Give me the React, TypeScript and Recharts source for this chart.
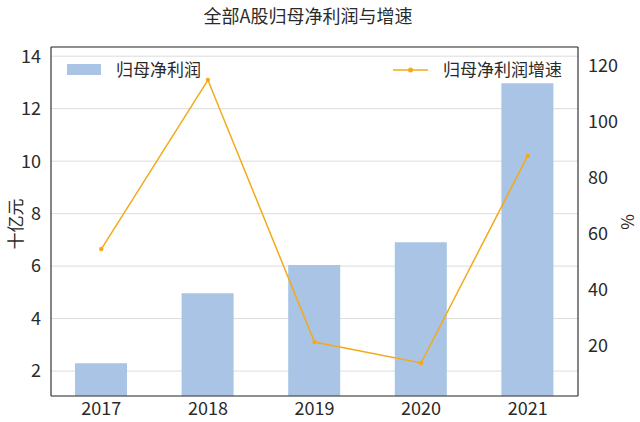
import React from 'react';
import { ComposedChart, Bar, Line, XAxis, YAxis, CartesianGrid, ReferenceLine } from 'recharts';

const years = ['2017', '2018', '2019', '2020', '2021'];
const profit = [2.3, 4.97, 6.04, 6.91, 12.97];
const growth = [54.6, 115.0, 21.4, 13.9, 87.9];
const leftTicks = [2, 4, 6, 8, 10, 12, 14];
const rightTicks = [20, 40, 60, 80, 100, 120];

const data = years.map((y, i) => ({ year: y, profit: profit[i], growth: growth[i] }));

const FONT = '"Noto Sans CJK SC", "Noto Sans", sans-serif';
const BAR_COLOR = '#A9C4E4';
const LINE_COLOR = '#F3AA1A';
const TEXT = '#2a2a2a';
const LEFT_MAX = 14.35;
const tickStyle = { fontSize: 18, fill: TEXT, fontFamily: FONT };

export default function App() {
  return (
    <div style={{ position: 'absolute', left: 0, top: 0, width: 640, height: 422, background: '#fff', fontFamily: FONT }}>
      <ComposedChart
        width={640}
        height={422}
        data={data}
        margin={{ top: 47, right: 0, bottom: 0, left: 0 }}
      >
        <CartesianGrid yAxisId="left" vertical={false} stroke="#dcdcdc" strokeWidth={1} />
        <XAxis
          dataKey="year"
          height={26}
          padding={{ left: -3, right: -3 }}
          tickLine={false}
          axisLine={{ stroke: '#333', strokeWidth: 1.2 }}
          tick={tickStyle}
          tickMargin={0}
        />
        <YAxis
          yAxisId="left"
          width={51}
          domain={[1.05, LEFT_MAX]}
          ticks={leftTicks}
          allowDataOverflow
          tickLine={false}
          axisLine={{ stroke: '#333', strokeWidth: 1.2 }}
          tick={tickStyle}
          tickMargin={4}
        />
        <YAxis
          yAxisId="right"
          orientation="right"
          width={62}
          domain={[2.1, 126.8]}
          ticks={rightTicks}
          allowDataOverflow
          tickLine={false}
          axisLine={{ stroke: '#333', strokeWidth: 1.2 }}
          tick={tickStyle}
          tickMargin={4}
        />
        <Bar yAxisId="left" dataKey="profit" fill={BAR_COLOR} barSize={52} isAnimationActive={false} />
        <Line
          yAxisId="right"
          dataKey="growth"
          stroke={LINE_COLOR}
          strokeWidth={1.5}
          dot={{ r: 2.2, fill: LINE_COLOR, stroke: LINE_COLOR, strokeWidth: 0 }}
          isAnimationActive={false}
        />
        <ReferenceLine yAxisId="left" y={LEFT_MAX} stroke="#333" strokeWidth={1.2} />
      </ComposedChart>
      <div style={{ position: 'absolute', left: 0, top: 2, width: 616, textAlign: 'center', fontSize: 18, color: TEXT, lineHeight: '26px' }}>
        全部A股归母净利润与增速
      </div>
      <div style={{ position: 'absolute', left: 14, top: 224, transform: 'translate(-50%, -50%) rotate(-90deg)', fontSize: 17, color: TEXT, whiteSpace: 'nowrap' }}>
        十亿元
      </div>
      <div style={{ position: 'absolute', left: 626, top: 222, transform: 'translate(-50%, -50%) rotate(-90deg)', fontSize: 17, color: TEXT, whiteSpace: 'nowrap' }}>
        %
      </div>
      <div style={{ position: 'absolute', left: 67, top: 64, width: 34, height: 11, background: BAR_COLOR }} />
      <div style={{ position: 'absolute', left: 116, top: 58, fontSize: 17, color: TEXT, lineHeight: '22px' }}>归母净利润</div>
      <svg style={{ position: 'absolute', left: 393, top: 62 }} width={36} height={16}>
        <line x1={0} y1={8} x2={35} y2={8} stroke={LINE_COLOR} strokeWidth={1.5} />
        <circle cx={17.5} cy={8} r={2.5} fill={LINE_COLOR} />
      </svg>
      <div style={{ position: 'absolute', left: 443, top: 58, fontSize: 17, color: TEXT, lineHeight: '22px' }}>归母净利润增速</div>
    </div>
  );
}
